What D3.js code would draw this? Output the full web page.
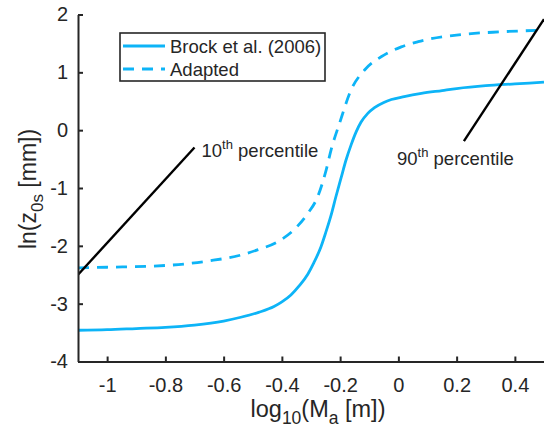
<!DOCTYPE html>
<head>
    <script src="https://d3js.org/d3.v7.min.js"></script>
    <style>
        body { margin: 0; background: #fff; }
        text { font-family: "Liberation Sans", Arial, sans-serif; fill: #262626; }
    </style>
</head>

<body>
    <div id="chart"></div>
</body>

<script>
    // values
    let brockX = [-1.1, -1.0, -0.9, -0.8, -0.7, -0.6, -0.541, -0.48, -0.427, -0.4, -0.369, -0.34, -0.311, -0.29, -0.266, -0.25, -0.231, -0.215, -0.197, -0.18, -0.162, -0.145, -0.128, -0.105, -0.082, -0.05, -0.024, 0.02, 0.079, 0.15, 0.2, 0.3, 0.4, 0.5];
    let brockY = [-3.46, -3.45, -3.43, -3.41, -3.37, -3.30, -3.235, -3.15, -3.05, -2.97, -2.85, -2.69, -2.49, -2.29, -2.02, -1.78, -1.47, -1.16, -0.83, -0.52, -0.25, -0.03, 0.14, 0.29, 0.39, 0.48, 0.53, 0.58, 0.635, 0.685, 0.72, 0.77, 0.80, 0.83];
    let adaptedX = [-1.1, -1.0, -0.8, -0.65, -0.541, -0.484, -0.415, -0.358, -0.311, -0.277, -0.248, -0.231, -0.202, -0.162, -0.116, -0.059, 0.010, 0.068, 0.229, 0.35, 0.5];
    let adaptedY = [-2.38, -2.37, -2.34, -2.26, -2.16, -2.07, -1.93, -1.72, -1.44, -1.15, -0.69, -0.34, 0.12, 0.70, 1.04, 1.27, 1.44, 1.53, 1.66, 1.70, 1.73];
    let p10Line = [[-1.1, -2.5], [-0.7, -0.3]];
    let p90Line = [[0.225, -0.19], [0.5, 1.92]];
    let xTicks = [-1, -0.8, -0.6, -0.4, -0.2, 0, 0.2, 0.4];
    let yTicks = [-4, -3, -2, -1, 0, 1, 2];
    let legendNames = ["Brock et al. (2006)", "Adapted"];

    let W = 544, H = 428;
    let mLeft = 78, mTop = 14.5, mBottom = 361.5, mRight = 544;
    let blue = "#0db4f7";

    let svg = d3.select("#chart").append("svg")
        .attr("width", W)
        .attr("height", H);

    let x = d3.scaleLinear().domain([-1.1, 0.5]).range([mLeft, mRight]);
    let y = d3.scaleLinear().domain([-4, 2]).range([mBottom, mTop]);

    svg.append("defs").append("clipPath").attr("id", "clip")
        .append("rect")
        .attr("x", mLeft).attr("y", mTop)
        .attr("width", mRight - mLeft).attr("height", mBottom - mTop);

    let line = d3.line()
        .x(d => x(d[0]))
        .y(d => y(d[1]))
        .curve(d3.curveMonotoneX);

    let plot = svg.append("g").attr("clip-path", "url(#clip)");

    plot.append("path")
        .datum(brockX.map((v, i) => [v, brockY[i]]))
        .attr("d", line)
        .attr("fill", "none")
        .attr("stroke", blue)
        .attr("stroke-width", 2.8);

    plot.append("path")
        .datum(adaptedX.map((v, i) => [v, adaptedY[i]]))
        .attr("d", line)
        .attr("fill", "none")
        .attr("stroke", blue)
        .attr("stroke-width", 2.8)
        .attr("stroke-dasharray", "11,8");

    [p10Line, p90Line].forEach(seg => {
        plot.append("path")
            .datum(seg)
            .attr("d", d3.line().x(d => x(d[0])).y(d => y(d[1])))
            .attr("stroke", "#000")
            .attr("stroke-width", 2.4);
    });

    // axes (MATLAB style, ticks pointing inwards)
    let xAxis = svg.append("g")
        .attr("transform", `translate(0,${mBottom})`)
        .call(d3.axisBottom(x).tickValues(xTicks).tickSizeInner(-5).tickSizeOuter(0)
            .tickPadding(16).tickFormat(d => String(d)));
    let yAxis = svg.append("g")
        .attr("transform", `translate(${mLeft},0)`)
        .call(d3.axisLeft(y).tickValues(yTicks).tickSizeInner(-5).tickSizeOuter(0)
            .tickPadding(10).tickFormat(d => String(d)));

    [xAxis, yAxis].forEach(a => {
        a.select(".domain").attr("stroke", "#262626").attr("stroke-width", 2);
        a.selectAll(".tick line").attr("stroke", "#262626").attr("stroke-width", 2);
        a.selectAll(".tick text").attr("font-size", 20).attr("fill", "#262626")
            .attr("font-family", "Liberation Sans, Arial, sans-serif");
    });

    // axis labels
    let xl = svg.append("text")
        .attr("x", 318).attr("y", 417)
        .attr("text-anchor", "middle")
        .attr("font-size", 23.5);
    xl.append("tspan").text("log");
    xl.append("tspan").attr("dy", 7).attr("font-size", 17.5).text("10");
    xl.append("tspan").attr("dy", -7).text("(M");
    xl.append("tspan").attr("dy", 7).attr("font-size", 17.5).text("a");
    xl.append("tspan").attr("dy", -7).text("  [m])");

    let yl = svg.append("text")
        .attr("transform", `translate(36,189) rotate(-90)`)
        .attr("text-anchor", "middle")
        .attr("font-size", 23);
    yl.append("tspan").text("ln(z");
    yl.append("tspan").attr("dy", 7).attr("font-size", 17).text("0s");
    yl.append("tspan").attr("dy", -7).text(" [mm])");

    // percentile annotations
    let annots = [
        { lab: "10", xp: x(-0.7) + 7, yp: 157 },
        { lab: "90", xp: 397, yp: 165 }
    ];
    annots.forEach(a => {
        let t = svg.append("text").attr("x", a.xp).attr("y", a.yp).attr("font-size", 18.5);
        t.append("tspan").text(a.lab);
        t.append("tspan").attr("dy", -8).attr("font-size", 13).text("th");
        t.append("tspan").attr("dy", 8).text(" percentile");
    });

    // legend
    let lg = svg.append("g").attr("transform", "translate(120,33)");
    lg.append("rect")
        .attr("width", 205).attr("height", 48)
        .attr("fill", "#fff")
        .attr("stroke", "#262626")
        .attr("stroke-width", 1.6);
    legendNames.forEach((name, i) => {
        let yy = 13 + i * 23;
        lg.append("line")
            .attr("x1", 3).attr("x2", 45)
            .attr("y1", yy).attr("y2", yy)
            .attr("stroke", blue)
            .attr("stroke-width", 2.8)
            .attr("stroke-dasharray", i === 0 ? null : "11,8");
        lg.append("text")
            .attr("x", 50).attr("y", yy + 6.5)
            .attr("font-size", 18.5)
            .text(name);
    });
</script>
